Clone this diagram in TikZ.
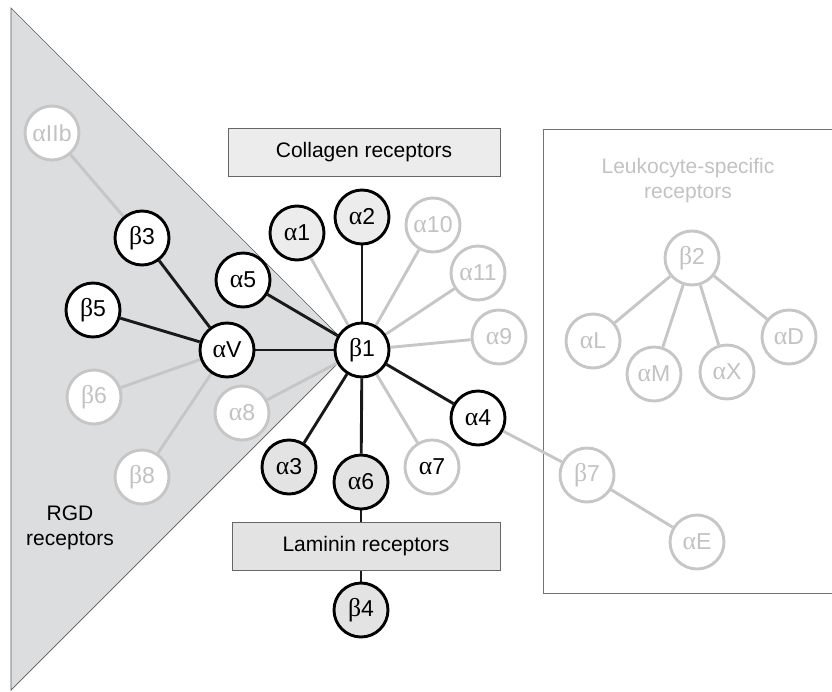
\documentclass[tikz,border=0pt]{standalone}
\usepackage{fontspec}
\setmainfont{Liberation Sans}
\newfontfamily\grk[Scale=1.12]{Liberation Serif}
\newcommand{\ga}{{\grk α}}
\newcommand{\gb}{{\grk β}}
\definecolor{lite}{HTML}{C6C6C6}
\definecolor{litetext}{HTML}{C2C2C2}
\definecolor{tri}{HTML}{DCDDDF}
\definecolor{boxfill}{HTML}{ECECEC}
\definecolor{stip}{HTML}{E3E3E3}
\pgfdeclarelayer{bg}
\pgfsetlayers{bg,main}
\begin{document}
\begin{tikzpicture}[x=1pt,y=-1pt,font=\fontsize{21}{25}\selectfont,
  dk/.style={circle, draw=black, line width=2.9pt, fill=white, minimum size=54pt, inner sep=0pt, font=\fontsize{23}{25}\selectfont},
  dkfill/.style={dk, fill=boxfill},
  dkstip/.style={dk, fill=stip},
  lt/.style={circle, draw=lite, line width=2.9pt, fill=white, text=litetext, minimum size=54pt, inner sep=0pt, font=\fontsize{23}{25}\selectfont},
  dkedge/.style={line width=2.9pt, draw=black!90},
  ltedge/.style={line width=2.9pt, draw=lite},
  rbox/.style={draw=black!60, line width=0.8pt, minimum width=#1, minimum height=48pt, inner sep=0pt}]
\useasboundingbox (0,0) rectangle (832,691);
% left cluster
\node[lt] (aIIb) at (52,133) {\ga IIb};
\node[dk] (b3) at (142,238) {\gb 3};
\node[dk] (b5) at (93,310) {\gb 5};
\node[dk] (aV) at (227,350) {\ga V};
\node[dk] (a5) at (243,280) {\ga 5};
\node[lt] (b6) at (94,397) {\gb 6};
\node[lt] (b8) at (142,477) {\gb 8};
\node[lt] (a8) at (242,413) {\ga 8};
% beta1 cluster
\node[dk] (b1) at (362,350) {\gb 1};
\node[dkfill] (a1) at (297,233) {\ga 1};
\node[dkfill] (a2) at (362,217) {\ga 2};
\node[lt] (a10) at (433,225) {\ga 10};
\node[lt] (a11) at (478,273) {\ga 11};
\node[lt] (a9) at (499,337) {\ga 9};
\node[dk] (a4) at (478,418) {\ga 4};
\node[lt, text=black] (a7) at (432,467) {\ga 7};
\node[dkstip] (a6) at (361,482) {\ga 6};
\node[dkstip] (a3) at (289,467) {\ga 3};
\node[dkstip] (b4) at (361,610) {\gb 4};
% boxes
\node[rbox=272pt, fill=boxfill] (coll) at (364,152.5) {Collagen receptors};
\node[rbox=268pt, fill=stip] (lam) at (366,546) {Laminin receptors};
\node[align=center] (rgd) at (70,528) {RGD\\receptors};
% leukocyte
\node[text=litetext, align=center] (leuk) at (688,181) {Leukocyte-specific\\receptors};
\node[lt] (b2) at (692,258) {\gb 2};
\node[lt] (aL) at (593,341) {\ga L};
\node[lt] (aM) at (654,374) {\ga M};
\node[lt] (aX) at (727,372) {\ga X};
\node[lt] (aD) at (789,337) {\ga D};
\node[lt] (b7) at (587,475) {\gb 7};
\node[lt] (aE) at (697,542) {\ga E};
\begin{pgfonlayer}{bg}
\path[fill=tri, draw=black!65, line width=0.7pt] (11,8) -- (352,349) -- (11,690) -- cycle;
\draw[draw=black!55, line width=0.9pt] (832,129) -- (543,129) -- (543,593) -- (832,593);
% light edges
\draw[ltedge] (aIIb) -- (b3);
\draw[ltedge] (b6) -- (aV);
\draw[ltedge] (b8) -- (aV);
\draw[ltedge] (a8) -- (b1);
\draw[ltedge] (a1) -- (b1);
\draw[ltedge] (a10) -- (b1);
\draw[ltedge] (a11) -- (b1);
\draw[ltedge] (a9) -- (b1);
\draw[ltedge] (a7) -- (b1);
\draw[ltedge] (a4) -- (b7);
\draw[ltedge] (b7) -- (aE);
\draw[ltedge] (b2) -- (aL);
\draw[ltedge] (b2) -- (aM);
\draw[ltedge] (b2) -- (aX);
\draw[ltedge] (b2) -- (aD);
% dark edges
\draw[dkedge] (b3) -- (aV);
\draw[dkedge] (b5) -- (aV);
\draw[dkedge] (aV) -- (b1);
\draw[dkedge] (a5) -- (b1);
\draw[dkedge] (a2) -- (b1);
\draw[dkedge] (a3) -- (b1);
\draw[dkedge] (a6) -- (b1);
\draw[dkedge] (a4) -- (b1);
\draw[dkedge] (a6) -- (a6 |- lam.north);
\draw[dkedge] (lam.south -| b4) -- (b4);
\end{pgfonlayer}
\end{tikzpicture}
\end{document}
